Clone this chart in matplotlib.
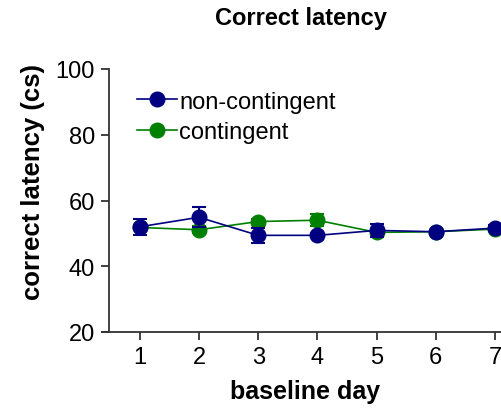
import numpy as np
import matplotlib
matplotlib.use('Agg')
import matplotlib.pyplot as plt
from matplotlib.lines import Line2D

plt.rcParams['font.family'] = ['Liberation Sans', 'DejaVu Sans']

# datos
days = [1, 2, 3, 4, 5, 6, 7]
nc_mean = [52.0, 54.9, 49.4, 49.4, 50.9, 50.5, 51.6]
nc_sem = [2.5, 3.0, 2.2, 0.6, 2.0, 0.6, 0.8]
c_mean = [51.8, 51.1, 53.6, 54.0, 50.3, 50.5, 51.3]
c_sem = [0.8, 1.0, 0.8, 1.9, 0.8, 0.5, 0.5]
yticks = [20, 40, 60, 80, 100]

fig = plt.figure(figsize=(5.02, 4.14), dpi=100)
ax = fig.add_axes([109/502, 1-333/414, 393/502, 263/414])

ax.errorbar(days, c_mean, yerr=c_sem, color='#008000', lw=1.2, marker='o', ms=10.5,
            capsize=5, elinewidth=1.5, capthick=1.5, zorder=3, clip_on=False)
ax.errorbar(days, nc_mean, yerr=nc_sem, color='#000080', lw=1.2, marker='o', ms=10.5,
            capsize=5, elinewidth=1.5, capthick=1.5, zorder=4, clip_on=False)

ax.set_xlim(0.48, 7.12)
ax.set_ylim(20, 100)
ax.set_xticks(days)
ax.set_yticks(yticks)
ax.tick_params(labelsize=17, length=6, width=1.3, color='#333333', pad=4)
for s in ['top', 'right']:
    ax.spines[s].set_visible(False)
for s in ['left', 'bottom']:
    ax.spines[s].set_linewidth(1.3)
    ax.spines[s].set_color('#333333')
ax.spines['bottom'].set_bounds(0.36, 7.12)

ax.set_xlabel('baseline day', fontsize=18, fontweight='bold', labelpad=8)
ax.set_ylabel('correct latency (cs)', fontsize=18.5, fontweight='bold', labelpad=8)
ax.yaxis.label.set_y(0.574)
fig.text(301/502, 1-18/414, 'Correct latency', fontsize=17, fontweight='bold', ha='center', va='center')

handles = [Line2D([], [], color='#000080', lw=1.2, marker='o', ms=10.5),
           Line2D([], [], color='#008000', lw=1.2, marker='o', ms=10.5)]
ax.legend(handles, ['non-contingent', 'contingent'], loc='upper left', bbox_to_anchor=(0.07, 0.918),
          frameon=False, fontsize=17, handlelength=1.7, handletextpad=0.1, labelspacing=0.36,
          borderpad=0, borderaxespad=0)

plt.savefig('out.png', dpi=100)
